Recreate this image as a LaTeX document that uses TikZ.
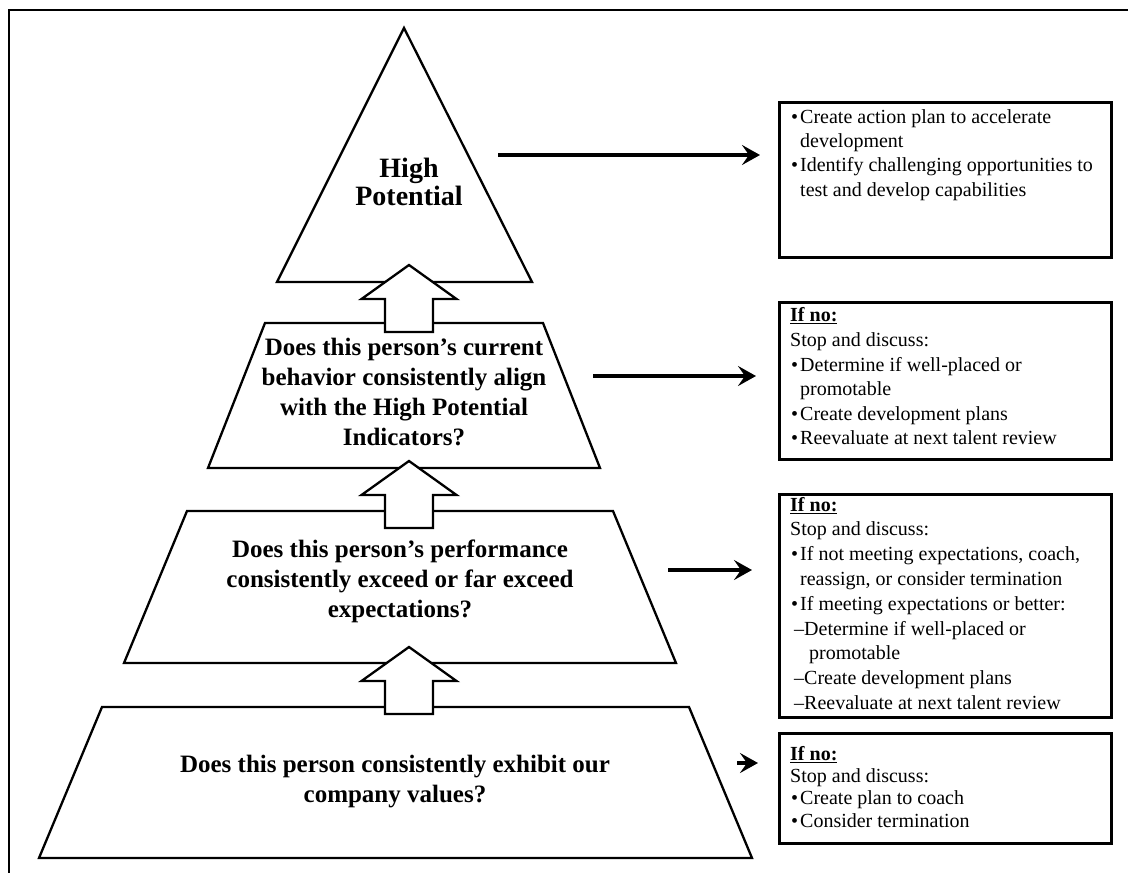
\documentclass[tikz,border=0pt]{standalone}
\usepackage{fontspec}
\setmainfont{Liberation Serif}
\usetikzlibrary{arrows.meta}
\newcommand\myb{\makebox[9pt][l]{\textbullet}}
\begin{document}
\begin{tikzpicture}[x=1pt,y=-1pt,
  frame/.style={line width=2pt},
  tier/.style={draw, line width=2.3pt, fill=white, line join=miter},
  uparrow/.style={draw, line width=2.3pt, fill=white, line join=miter},
  harrow/.style={line width=3.2pt, -{Stealth[length=18pt,width=20pt,inset=7pt]}},
  rbox/.style={draw, line width=2.8pt, minimum width=332pt, anchor=north west, inner sep=0pt},
  btext/.style={font=\fontsize{20}{#1}\selectfont, align=left, anchor=north west, inner sep=0pt},
  qtext/.style={font=\fontsize{25}{#1}\selectfont\bfseries, align=center, anchor=north, inner sep=0pt},
  uparr/.pic={\draw[uparrow] (0,0) -- (47.5,34) -- (24,34) -- (24,67) -- (-24,67) -- (-24,34) -- (-47.5,34) -- cycle;}
]
\useasboundingbox (0,0) rectangle (1128,873);
\fill[white] (0,0) rectangle (1128,873);
\draw[frame] (1128,10) -- (9,10) -- (9,873);

% pyramid tiers
\draw[tier] (404,28) -- (532,282) -- (277,282) -- cycle;
\draw[tier] (265,323) -- (543,323) -- (600,468) -- (208,468) -- cycle;
\draw[tier] (187,511) -- (613,511) -- (676,663) -- (124,663) -- cycle;
\draw[tier] (102,707) -- (689,707) -- (752,858) -- (39,858) -- cycle;

% block arrows between tiers
\pic at (409,265) {uparr};
\pic at (409,461) {uparr};
\pic at (409,647) {uparr};

% tier texts
\node[qtext=25, font=\fontsize{28}{25}\selectfont\bfseries] (q1) at (409,157.5) {\strut High\\Potential};
\node[qtext=30] (q2) at (404,334) {\strut Does this person’s current\\behavior consistently align\\with the High Potential\\Indicators?};
\node[qtext=30] (q3) at (400,536) {\strut Does this person’s performance\\consistently exceed or far exceed\\expectations?};
\node[qtext=30] (q4) at (395,751) {\strut Does this person consistently exhibit our\\company values?};

% right boxes
\node[rbox, minimum height=155pt] (b1) at (778,101) {};
\node[rbox, minimum height=157pt] (b2) at (778,301) {};
\node[rbox, minimum height=223pt] (b3) at (778,493) {};
\node[rbox, minimum height=110pt] (b4) at (778,732) {};

\node[btext=24.3] (t1) at (791,106) {\strut\myb Create action plan to accelerate\\
\hspace*{9pt}development\\
\myb Identify challenging opportunities to\\
\hspace*{9pt}test and develop capabilities};

\node[btext=24.6] (t2) at (790,304.5) {\strut\textbf{\underline{If no:}}\\
Stop and discuss:\\
\hspace*{1pt}\myb Determine if well-placed or\\
\hspace*{10pt}promotable\\
\hspace*{1pt}\myb Create development plans\\
\hspace*{1pt}\myb Reevaluate at next talent review};

\node[btext=24.8] (t3) at (790,493.6) {\strut\textbf{\underline{If no:}}\\
Stop and discuss:\\
\hspace*{1pt}\myb If not meeting expectations, coach,\\
\hspace*{10pt}reassign, or consider termination\\
\hspace*{1pt}\myb If meeting expectations or better:\\
\hspace*{4pt}\textendash Determine if well-placed or\\
\hspace*{19pt}promotable\\
\hspace*{4pt}\textendash Create development plans\\
\hspace*{4pt}\textendash Reevaluate at next talent review};

\node[btext=22.4] (t4) at (790,744.3) {\strut\textbf{\underline{If no:}}\\
Stop and discuss:\\
\hspace*{1pt}\myb Create plan to coach\\
\hspace*{1pt}\myb Consider termination};

% horizontal arrows
\coordinate (a1s) at (498,155); \coordinate (a1e) at (760,155);
\coordinate (a2s) at (593,376); \coordinate (a2e) at (756,376);
\coordinate (a3s) at (668,570); \coordinate (a3e) at (752,570);
\coordinate (a4s) at (737,763); \coordinate (a4e) at (758,763);
\draw[harrow] (a1s) -- (a1e);
\draw[harrow] (a2s) -- (a2e);
\draw[harrow] (a3s) -- (a3e);
\draw[harrow] (a4s) -- (a4e);
\end{tikzpicture}
\end{document}
